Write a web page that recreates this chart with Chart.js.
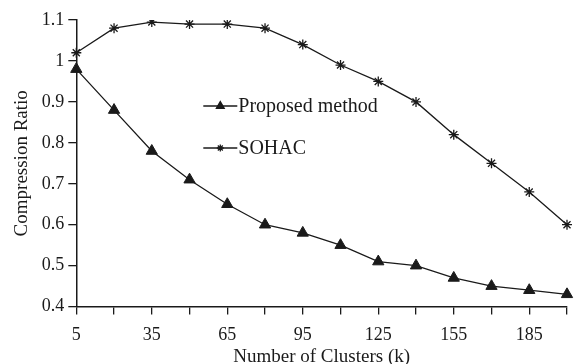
<!DOCTYPE html>
<html>
<head>
<meta charset="utf-8">
<script src="https://cdn.jsdelivr.net/npm/chart.js@4/dist/chart.umd.min.js"></script>
<style>
  html, body { margin: 0; padding: 0; background: #fff; }
</style>
</head>
<body>
<canvas id="chart" width="577" height="364"></canvas>
<script>
let clusters = [5, 20, 35, 50, 65, 80, 95, 110, 125, 140, 155, 170, 185, 200];
let proposed = [0.98, 0.88, 0.78, 0.71, 0.65, 0.60, 0.58, 0.55, 0.51, 0.50, 0.47, 0.45, 0.44, 0.43];
let sohac = [1.02, 1.08, 1.095, 1.09, 1.09, 1.08, 1.04, 0.99, 0.95, 0.90, 0.82, 0.75, 0.68, 0.60];
let seriesNames = ['Proposed method', 'SOHAC'];

let serif = '"Liberation Serif", "DejaVu Serif", serif';
let ink = '#1a1a1a';

function createDataset(label, style, radius, data) {
  return {
    label: label,
    data: data,
    borderColor: ink,
    backgroundColor: ink,
    borderWidth: 1.3,
    pointStyle: style,
    pointRadius: radius,
    pointBorderWidth: style == 'star' ? 1.3 : 1,
    tension: 0
  };
}

// legend drawn inside the plot area
const innerLegend = {
  id: 'innerLegend',
  afterDraw(chart) {
    let ctx = chart.ctx;
    let area = chart.chartArea;
    let x0 = area.left + 127;
    let ys = [area.top + 86, area.top + 128];
    chart.data.datasets.forEach((ds, i) => {
      let y = ys[i];
      ctx.save();
      ctx.strokeStyle = ink;
      ctx.lineWidth = 1.3;
      ctx.beginPath();
      ctx.moveTo(x0, y);
      ctx.lineTo(x0 + 34, y);
      ctx.stroke();
      Chart.helpers.drawPoint(ctx, {
        pointStyle: ds.pointStyle,
        radius: ds.pointStyle == 'star' ? 3.5 : 4.5,
        borderWidth: ds.pointBorderWidth
      }, x0 + 17, y);
      ctx.fillStyle = ink;
      ctx.fill();
      ctx.font = '20px ' + serif;
      ctx.textBaseline = 'middle';
      ctx.textAlign = 'left';
      ctx.fillText(ds.label, x0 + 35, y + 1);
      ctx.restore();
    });
  }
};

let ctx = document.getElementById('chart').getContext('2d');
new Chart(ctx, {
  type: 'line',
  data: {
    labels: clusters,
    datasets: [
      createDataset(seriesNames[0], 'triangle', 6.5, proposed),
      createDataset(seriesNames[1], 'star', 5, sohac)
    ]
  },
  options: {
    responsive: false,
    animation: { duration: 0 },
    layout: { padding: { top: 20, right: 2, left: 11, bottom: -4 } },
    plugins: {
      legend: { display: false },
      tooltip: { enabled: false }
    },
    scales: {
      x: {
        type: 'category',
        offset: false,
        grid: {
          display: true,
          drawOnChartArea: false,
          drawTicks: true,
          tickLength: 8,
          color: ink,
          lineWidth: 1.3
        },
        border: { color: ink, width: 1.5 },
        ticks: {
          autoSkip: false,
          maxRotation: 0,
          color: ink,
          padding: 10,
          font: { family: serif, size: 18 },
          callback: (value, index) => index % 2 == 0 ? clusters[index] : ''
        },
        title: {
          display: true,
          text: 'Number of Clusters (k)',
          color: ink,
          padding: { top: -11, bottom: 0 },
          font: { family: serif, size: 19 }
        }
      },
      y: {
        min: 0.4,
        max: 1.1,
        grid: {
          display: true,
          drawOnChartArea: false,
          drawTicks: true,
          tickLength: 8,
          color: ink,
          lineWidth: 1.3
        },
        border: { color: ink, width: 1.5 },
        ticks: {
          stepSize: 0.1,
          color: ink,
          padding: 4,
          font: { family: serif, size: 18 },
          callback: (value) => `${Number(value.toFixed(1))}`
        },
        title: {
          display: true,
          text: 'Compression Ratio',
          color: ink,
          padding: { top: 0, bottom: 4 },
          font: { family: serif, size: 19 }
        }
      }
    }
  },
  plugins: [innerLegend]
});
</script>
</body>
</html>
